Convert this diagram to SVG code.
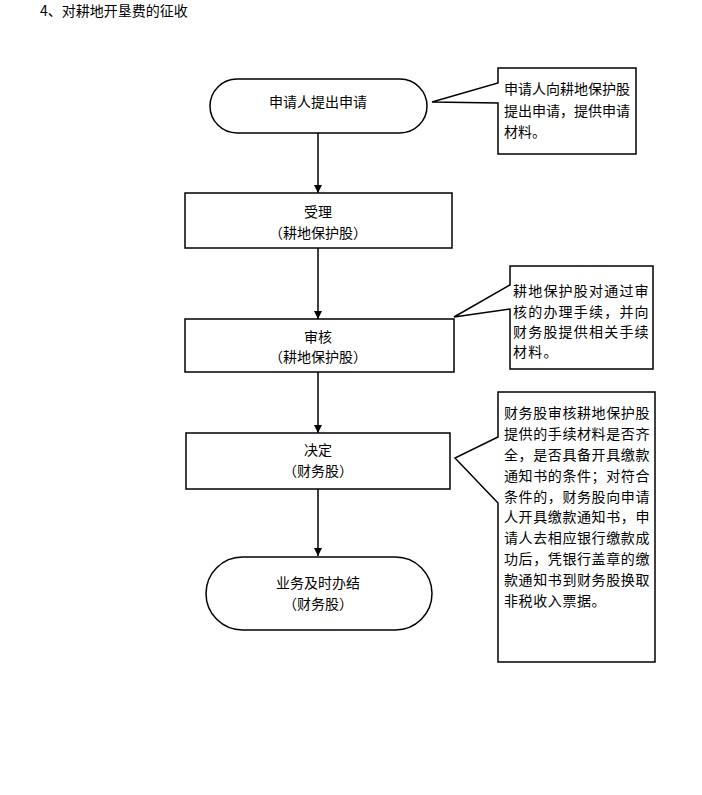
<svg xmlns="http://www.w3.org/2000/svg" width="702" height="795" viewBox="0 0 702 795">
<defs>
<style>
text{font-family:"Noto Sans CJK SC","Liberation Sans",sans-serif;font-size:14px;fill:#000}
.c{text-anchor:middle}
.shape{fill:#fff;stroke:#000;stroke-width:1.5}
.ln{stroke:#000;stroke-width:1.5;fill:none}
</style>
<marker id="ah" viewBox="0 0 10 10" refX="10" refY="5" markerWidth="8" markerHeight="8" markerUnits="userSpaceOnUse" orient="auto">
<path d="M0,0 L10,5 L0,10 Z" fill="#000"/>
</marker>
</defs>
<rect width="702" height="795" fill="#fff"/>
<text x="40" y="16">4、对耕地开垦费的征收</text>
<g id="connectors">
<line class="ln" x1="318" y1="133" x2="318" y2="193" marker-end="url(#ah)"/>
<line class="ln" x1="318" y1="248" x2="318" y2="319" marker-end="url(#ah)"/>
<line class="ln" x1="318" y1="372" x2="318" y2="433" marker-end="url(#ah)"/>
<line class="ln" x1="318" y1="489" x2="318" y2="556" marker-end="url(#ah)"/>
</g>
<g id="n1">
<rect class="shape" x="210" y="79" width="217" height="54" rx="27" ry="27"/>
<text class="c" x="318" y="107">申请人提出申请</text>
</g>
<g id="n2">
<rect class="shape" x="185" y="193" width="267" height="55"/>
<text class="c" x="318" y="217">受理</text>
<text class="c" x="318" y="238">（耕地保护股）</text>
</g>
<g id="n3">
<rect class="shape" x="185" y="319" width="269" height="53"/>
<text class="c" x="318" y="342">审核</text>
<text class="c" x="318" y="362">（耕地保护股）</text>
</g>
<g id="n4">
<rect class="shape" x="186" y="433" width="264" height="56"/>
<text class="c" x="318" y="455">决定</text>
<text class="c" x="318" y="476">（财务股）</text>
</g>
<g id="n5">
<rect class="shape" x="206" y="557" width="226" height="73" rx="36.5" ry="36.5"/>
<text class="c" x="318" y="588">业务及时办结</text>
<text class="c" x="318" y="609">（财务股）</text>
</g>
<g id="callout1">
<path class="shape" d="M498,68 H636 V154 H498 V103 L432,102 L498,83 Z"/>
<text x="504" y="94">申请人向耕地保护股</text>
<text x="504" y="116">提出申请，提供申请</text>
<text x="504" y="137">材料。</text>
</g>
<g id="callout2">
<path class="shape" d="M510,266 H653 V369 H510 V309 L454,317 L510,285 Z"/>
<g style="letter-spacing:1.2px">
<text x="513" y="296">耕地保护股对通过审</text>
<text x="513" y="317">核的办理手续，并向</text>
<text x="513" y="337">财务股提供相关手续</text>
<text x="513" y="357">材料。</text>
</g>
</g>
<g id="callout3">
<path class="shape" d="M498,392 H655 V662 H498 V503 L455,458 L498,437 Z"/>
<g style="letter-spacing:0.6px">
<text x="504" y="418">财务股审核耕地保护股</text>
<text x="504" y="439">提供的手续材料是否齐</text>
<text x="504" y="460">全，是否具备开具缴款</text>
<text x="504" y="481">通知书的条件；对符合</text>
<text x="504" y="502">条件的，财务股向申请</text>
<text x="504" y="522">人开具缴款通知书，申</text>
<text x="504" y="543">请人去相应银行缴款成</text>
<text x="504" y="564">功后，凭银行盖章的缴</text>
<text x="504" y="585">款通知书到财务股换取</text>
<text x="504" y="606">非税收入票据。</text>
</g>
</g>
</svg>
